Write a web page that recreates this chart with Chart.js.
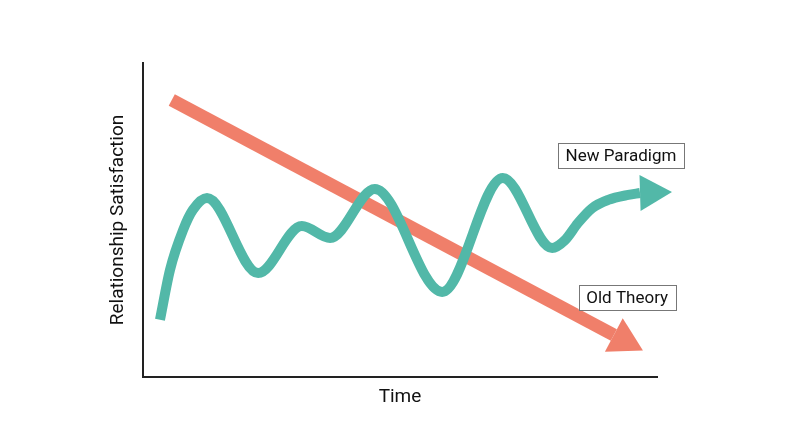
<!DOCTYPE html>
<html>
<head>
<meta charset="utf-8">
<script src="https://cdn.jsdelivr.net/npm/chart.js@4/dist/chart.umd.min.js"></script>
<style>
  html, body { margin: 0; padding: 0; background: #fff; }
  #wrap { width: 800px; height: 447px; }
</style>
</head>
<body>
<div id="wrap"><canvas id="chartTheory"></canvas></div>
<script>
// teal "new paradigm" curve (x = time, y = satisfaction, 0-100)
var paradigmX = [3.3, 5.25, 7.8, 9.7, 12.45, 22.4, 30.9, 36.4, 45.1, 58.2, 70.0, 79.6, 82.1, 84.6, 87.4, 90.5, 94.4, 96.7];
var paradigmY = [18.2, 34.1, 46.8, 53.2, 57.0, 33.1, 48.1, 44.3, 59.9, 27.1, 63.4, 41.1, 43.6, 49.0, 53.8, 56.4, 58.0, 58.6];

// salmon "old theory" straight decline
var theoryX = [5.6, 91.6];
var theoryY = [88.2, 13.4];

var labelTexts = ['New Paradigm', 'Old Theory'];
var axisTitles = ['Time', 'Relationship Satisfaction'];

var teal = '#52b8a8';
var salmon = '#f07f6a';

toPoints = (xs, ys) => {
  let pts = [];
  for (let i = 0; i < xs.length; i++) pts.push({ x: xs[i], y: ys[i] });
  return pts;
};

// arrowheads at the end of each line + boxed labels
var arrowPlugin = {
  id: 'arrows',
  afterDatasetsDraw: function (chart) {
    let ctx = chart.ctx;
    let heads = [
      { ds: 0, len: 32, half: 18 },
      { ds: 1, len: 33, half: 19 },
    ];
    heads.forEach(function (h) {
      let pts = chart.getDatasetMeta(h.ds).data;
      let a = pts[pts.length - 2];
      let b = pts[pts.length - 1];
      let dx = b.x - a.x;
      let dy = b.y - a.y;
      if (h.ds === 0) { dx = 1; dy = -0.03; }
      let d = Math.sqrt(dx * dx + dy * dy);
      dx /= d; dy /= d;
      let color = chart.data.datasets[h.ds].borderColor;
      ctx.save();
      ctx.fillStyle = color;
      ctx.beginPath();
      ctx.moveTo(b.x + dx * h.len, b.y + dy * h.len);
      ctx.lineTo(b.x - dy * h.half, b.y + dx * h.half);
      ctx.lineTo(b.x + dy * h.half, b.y - dx * h.half);
      ctx.closePath();
      ctx.fill();
      ctx.restore();
    });

    // boxed labels
    let xs = chart.scales.x;
    let ys = chart.scales.y;
    let spots = [
      { x: 93.0, y: 70.5 },
      { x: 94.2, y: 25.3 },
    ];
    ctx.save();
    ctx.font = '17px Roboto';
    ctx.textAlign = 'center';
    ctx.textBaseline = 'middle';
    for (let i = 0; i < labelTexts.length; i++) {
      let cx = xs.getPixelForValue(spots[i].x);
      let cy = ys.getPixelForValue(spots[i].y);
      let w = ctx.measureText(labelTexts[i]).width + 15;
      let hgt = 25;
      ctx.fillStyle = '#fff';
      ctx.fillRect(cx - w / 2, cy - hgt / 2, w, hgt);
      ctx.strokeStyle = '#777';
      ctx.lineWidth = 1;
      ctx.strokeRect(Math.round(cx - w / 2) + 0.5, Math.round(cy - hgt / 2) + 0.5, Math.round(w), hgt);
      ctx.fillStyle = '#111';
      ctx.fillText(labelTexts[i], cx, cy + 1);
    }
    ctx.restore();
  },
};

var cto = document.getElementById('chartTheory');
var chartTheory = new Chart(cto, {
  type: 'line',
  plugins: [arrowPlugin],
  data: {
    datasets: [
      {
        label: labelTexts[0],
        data: toPoints(paradigmX, paradigmY),
        borderColor: teal,
        borderWidth: 10,
        borderCapStyle: 'butt',
        borderJoinStyle: 'round',
        cubicInterpolationMode: 'monotone',
        pointRadius: 0,
        fill: false,
        clip: false,
      },
      {
        label: labelTexts[1],
        data: toPoints(theoryX, theoryY),
        borderColor: salmon,
        borderWidth: 13,
        borderCapStyle: 'butt',
        pointRadius: 0,
        fill: false,
        clip: false,
      },
    ],
  },
  options: {
    responsive: true,
    maintainAspectRatio: false,
    animation: false,
    layout: {
      padding: { left: 105, right: 143, top: 63, bottom: 0 },
    },
    scales: {
      x: {
        type: 'linear',
        min: 0,
        max: 100,
        grid: { display: false },
        ticks: { display: false },
        border: { display: true, color: '#222', width: 2 },
        title: {
          display: true,
          text: axisTitles[0],
          color: '#111',
          font: { family: 'Roboto', size: 19 },
          padding: { top: 0, bottom: 38 },
        },
        afterFit: function (scale) { scale.height = 70; },
      },
      y: {
        min: 0,
        max: 100,
        grid: { display: false },
        ticks: { display: false },
        border: { display: true, color: '#222', width: 2 },
        title: {
          display: true,
          text: axisTitles[1],
          color: '#111',
          font: { family: 'Roboto', size: 19 },
          padding: { top: 2, bottom: 0 },
        },
        afterFit: function (scale) { scale.width = 38; },
      },
    },
    plugins: {
      legend: { display: false },
      tooltip: { enabled: false },
    },
  },
});
</script>
</body>
</html>
